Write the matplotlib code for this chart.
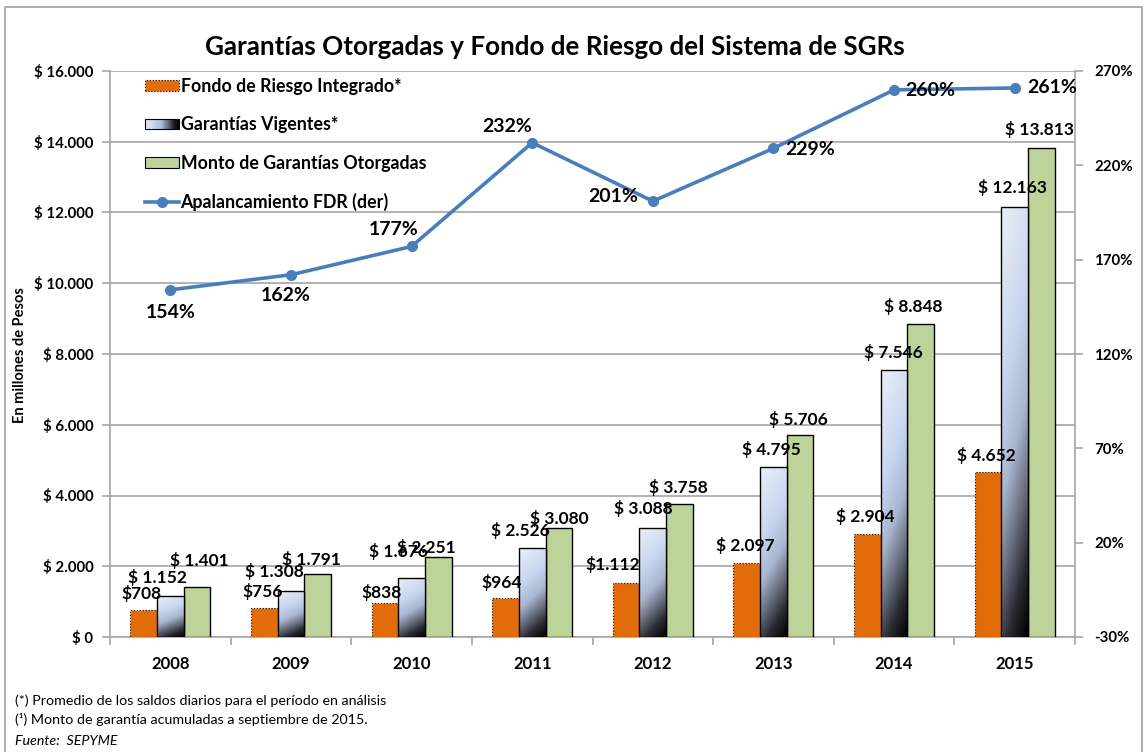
import numpy as np
import matplotlib
matplotlib.use("Agg")
import matplotlib.pyplot as plt
from matplotlib.patches import Patch, Rectangle
from matplotlib.lines import Line2D
from matplotlib.legend_handler import HandlerBase
from matplotlib.colors import LinearSegmentedColormap

plt.rcParams['font.family'] = ['Lato', 'DejaVu Sans']

# data
years = ['2008', '2009', '2010', '2011', '2012', '2013', '2014', '2015']
fondo_bar = [770, 820, 960, 1100, 1530, 2097, 2904, 4652]
fondo_labels = ['$708', '$756', '$838', '$964', '$1.112', '$ 2.097', '$ 2.904', '$ 4.652']
vigentes = [1152, 1308, 1676, 2526, 3088, 4795, 7546, 12163]
otorgadas = [1401, 1791, 2251, 3080, 3758, 5706, 8848, 13813]
apalanc = [154, 162, 177, 232, 201, 229, 260, 261]

title = 'Garantías Otorgadas y Fondo de Riesgo del Sistema de SGRs'
notes = ['(*) Promedio de los saldos diarios para el período en análisis',
         '(¹) Monto de garantía acumuladas a septiembre de 2015.']
source = 'Fuente:  SEPYME'

# label offsets in pixels (hand placed in the original)
off_fondo = [(-2, 16), (-2, 16), (-3, 11), (-4, 16), (-13, 18), (-1, 17), (-2, 18), (-2, 17)]
off_vig = [(-13, 19), (-17, 19), (-13, 26), (-12, 17), (-9, 19), (-2, 18), (-1, 18), (-2, 19)]
off_oto = [(2, 27), (-6, 14), (-12, 10), (0, 10), (-1, 17), (-2, 16), (-7, 18), (-2, 19)]
off_line = [(0, -23), (-5, -21), (-18, 17), (-25, 16), (-40, 5), (37, -1), (36, -1), (37, 0)]

orange = '#e36c0a'
green = '#bdd39a'
lblue = '#4a7ebb'
grid_c = '#a6a6a6'
grad_cmap = LinearSegmentedColormap.from_list(
    'gv', [(0, '#eceff7'), (0.35, '#c6d5ef'), (0.55, '#a8b6cf'),
           (0.7, '#6b7282'), (0.85, '#2a2c33'), (1.0, '#000000')])


def fmt(v):
    return '$ ' + f'{v:,}'.replace(',', '.')


fig = plt.figure(figsize=(11.48, 7.52), dpi=100)
ax = fig.add_axes([110 / 1148, 1 - 637 / 752, 965 / 1148, 566 / 752])

x = np.arange(len(years))
w = 0.221

ax.bar(x - w, fondo_bar, w, color=orange, edgecolor='black', linestyle=':', linewidth=0.8, zorder=3)
vb = ax.bar(x, vigentes, w, fill=False, edgecolor='black', linewidth=1.0, zorder=3.2)
ax.bar(x + w, otorgadas, w, color=green, edgecolor='black', linewidth=1.0, zorder=3)

# gradient fill for Garantías Vigentes (light on top, black at the base)
yy, xx = np.mgrid[0:1:200j, 0:1:20j]
grad = 0.8 * (1 - yy) + 0.2 * xx
for rect in vb:
    x0 = rect.get_x()
    h = rect.get_height()
    im = ax.imshow(grad, extent=[x0, x0 + w, 0, h], origin='lower', aspect='auto',
                   cmap=grad_cmap, vmin=0, vmax=1, zorder=3.1, interpolation='bilinear')
    im.set_clip_path(rect)

for i in range(len(years)):
    ax.annotate(fondo_labels[i], (x[i] - w, fondo_bar[i]), xytext=off_fondo[i],
                textcoords='offset pixels', ha='center', va='center',
                fontsize=12.5, fontweight='bold', zorder=5)
    ax.annotate(fmt(vigentes[i]), (x[i], vigentes[i]), xytext=off_vig[i],
                textcoords='offset pixels', ha='center', va='center',
                fontsize=12.5, fontweight='bold', zorder=5)
    ax.annotate(fmt(otorgadas[i]), (x[i] + w, otorgadas[i]), xytext=off_oto[i],
                textcoords='offset pixels', ha='center', va='center',
                fontsize=12.5, fontweight='bold', zorder=5)

ax.set_xlim(-0.5, len(years) - 0.5)
ax.set_ylim(0, 16000)
ax.set_yticks(np.arange(0, 16001, 2000))
ax.set_yticklabels([fmt(v) if v else '$ 0' for v in range(0, 16001, 2000)],
                   fontsize=10.8, fontweight='bold')
ax.set_xticks(x)
ax.set_xticklabels(years, fontsize=12, fontweight='bold')
ax.set_xticks(np.arange(-0.5, len(years), 1), minor=True)
ax.tick_params(axis='x', which='major', length=0, pad=14)
ax.tick_params(axis='x', which='minor', length=6, color=grid_c, width=1.2)
ax.tick_params(axis='y', length=6, color=grid_c, width=1.2, pad=6)
ax.grid(axis='y', color=grid_c, linewidth=1.2)
ax.set_axisbelow(True)
for s in ['top', 'right']:
    ax.spines[s].set_visible(False)
for s in ['left', 'bottom']:
    ax.spines[s].set_color(grid_c)
    ax.spines[s].set_linewidth(1.2)

ax2 = ax.twinx()
ax2.plot(x, apalanc, color=lblue, linewidth=2.6, marker='o', markersize=7, zorder=6)
for i in range(len(years)):
    ax2.annotate(f'{apalanc[i]}%', (x[i], apalanc[i]), xytext=off_line[i],
                 textcoords='offset pixels', ha='center', va='center',
                 fontsize=14, fontweight='bold', zorder=7)
ax2.set_ylim(-30, 270)
ax2.set_yticks(np.arange(-30, 271, 50))
ax2.set_yticklabels([f'{v}%' for v in range(-30, 271, 50)], fontsize=10.8, fontweight='bold')
ax2.tick_params(axis='y', length=6, color=grid_c, width=1.2, pad=8)
for s in ['top', 'left', 'bottom']:
    ax2.spines[s].set_visible(False)
ax2.spines['right'].set_color(grid_c)
ax2.spines['right'].set_linewidth(1.2)


class HandlerGradient(HandlerBase):
    def create_artists(self, legend, orig_handle, xdescent, ydescent, width, height, fontsize, trans):
        arts = []
        n = 30
        for k in range(n):
            r = Rectangle((-xdescent + width * k / n, -ydescent), width / n + 0.3, height,
                          facecolor=grad_cmap(0.1 + 0.9 * k / (n - 1)), edgecolor='none', transform=trans)
            arts.append(r)
        arts.append(Rectangle((-xdescent, -ydescent), width, height, fill=False,
                              edgecolor='black', linewidth=0.8, transform=trans))
        return arts


h_fondo = Patch(facecolor=orange, edgecolor='black', linestyle=':', linewidth=0.8)
h_vig = Patch(facecolor='#c6d5ef')
h_oto = Patch(facecolor=green, edgecolor='black', linewidth=0.8)
h_line = Line2D([], [], color=lblue, linewidth=2.6, marker='o', markersize=7)
leg = ax2.legend([h_fondo, h_vig, h_oto, h_line],
                 ['Fondo de Riesgo Integrado*', 'Garantías Vigentes*',
                  'Monto de Garantías Otorgadas', 'Apalancamiento FDR (der)'],
                 handler_map={h_vig: HandlerGradient()},
                 loc='upper left', bbox_to_anchor=(145 / 1148, 1 - 78 / 752),
                 bbox_transform=fig.transFigure, frameon=False, borderpad=0,
                 borderaxespad=0, handlelength=1.9, handleheight=0.55,
                 handletextpad=0.1, labelspacing=1.2,
                 prop={'size': 12.8, 'weight': 'bold'})

fig.text(555 / 1148, 1 - 47 / 752, title, ha='center', va='center', fontsize=18.7, fontweight='bold')
fig.text(20 / 1148, 1 - 355 / 752, 'En millones de Pesos', rotation=90, ha='center', va='center',
         fontsize=10.5, fontweight='bold')
fig.text(15 / 1148, 1 - 701 / 752, notes[0], ha='left', va='center', fontsize=10.3)
fig.text(15 / 1148, 1 - 720 / 752, notes[1], ha='left', va='center', fontsize=10.3)
fig.text(15 / 1148, 1 - 741 / 752, source, ha='left', va='center', fontsize=10.3, style='italic')

# outer frame
fig.add_artist(Line2D([5 / 1148, 5 / 1148, 1142 / 1148, 1142 / 1148],
                      [0, 1 - 7 / 752, 1 - 7 / 752, 0], transform=fig.transFigure,
                      color='#a0a0a0', linewidth=1.2))

fig.savefig('out.png', dpi=100)
